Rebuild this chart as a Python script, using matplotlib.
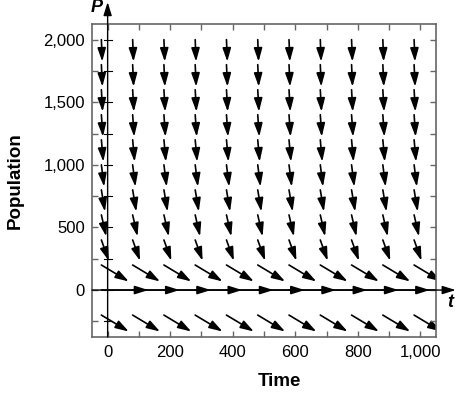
import matplotlib
matplotlib.use("Agg")
import matplotlib.pyplot as plt
import numpy as np
from matplotlib.patches import FancyArrowPatch
from matplotlib.ticker import FuncFormatter, MultipleLocator

plt.rcParams["font.family"] = ["Liberation Sans", "DejaVu Sans"]

# direction field sample points and the slope dP/dt read for each row
t_values = [-20, 80, 180, 280, 380, 480, 580, 680, 780, 880, 980]
p_values = [-200, 0, 200, 400, 600, 800, 1000, 1200, 1400, 1600, 1800, 2000]
row_slopes = [-1.5, 0.0, -1.5, -7, -11, -15, -20, -28, -36, -45, -55, -65]

x_ticks = [0, 200, 400, 600, 800, 1000]
y_ticks = [0, 500, 1000, 1500, 2000]

fig = plt.figure(figsize=(4.62, 3.94), dpi=100)
ax = fig.add_axes([92 / 462, 1 - 337 / 394, 344 / 462, 313 / 394])
ax.set_xlim(-50, 1050)
ax.set_ylim(-375, 2125)

frame_col = "#666666"
for sp in ax.spines.values():
    sp.set_color(frame_col)
    sp.set_linewidth(1.2)

ax.xaxis.set_major_locator(MultipleLocator(200))
ax.xaxis.set_minor_locator(MultipleLocator(100))
ax.yaxis.set_major_locator(MultipleLocator(500))
ax.yaxis.set_minor_locator(MultipleLocator(250))
ax.set_xticks(x_ticks)
ax.set_yticks(y_ticks)
fmt = FuncFormatter(lambda v, _: f"{v:,.0f}")
ax.xaxis.set_major_formatter(fmt)
ax.yaxis.set_major_formatter(fmt)
ax.tick_params(which="both", direction="in", length=4, width=1, color=frame_col,
               top=True, right=True, labelsize=12)
ax.tick_params(axis="x", pad=6)
ax.tick_params(axis="y", pad=5)

# coordinate axes through the origin
ax.annotate("", xy=(1113, 0), xytext=(-50, 0), xycoords="data",
            arrowprops=dict(arrowstyle="-|>,head_length=0.8,head_width=0.25",
                            color="black", lw=1.0, shrinkA=0, shrinkB=0),
            annotation_clip=False)
ax.annotate("", xy=(0, 2300), xytext=(0, -375), xycoords="data",
            arrowprops=dict(arrowstyle="-|>,head_length=0.8,head_width=0.25",
                            color="black", lw=1.0, shrinkA=0, shrinkB=0),
            annotation_clip=False)
for p in np.arange(-250, 2001, 250):
    ax.plot([-13, 13], [p, p], color="black", lw=0.8, clip_on=False)

ax.text(1095, -35, "t", fontsize=13, fontweight="bold", fontstyle="italic",
        ha="center", va="top", clip_on=False)
ax.text(-35, 2255, "P", fontsize=13, fontweight="bold", fontstyle="italic",
        ha="center", va="center", clip_on=False)

# direction field
to_disp = ax.transData
to_data = ax.transData.inverted()
for p, slope in zip(p_values, row_slopes):
    for t in t_values:
        x0, y0 = to_disp.transform((t, p))
        x1, y1 = to_disp.transform((t + 1, p + slope))
        dx, dy = x1 - x0, y1 - y0
        norm = np.hypot(dx, dy)
        ux, uy = dx / norm, dy / norm
        length = 22 + 25 * abs(ux) ** 6
        tip = to_data.transform((x0 + length * ux, y0 + length * uy))
        arr = FancyArrowPatch((t, p), tuple(tip),
                              arrowstyle="-|>,head_length=0.8,head_width=0.25",
                              mutation_scale=10, color="black", lw=1.2,
                              shrinkA=0, shrinkB=0)
        ax.add_patch(arr)

fig.text(15 / 462, 1 - 181 / 394, "Population", rotation=90, fontsize=13.5,
         fontweight="bold", ha="center", va="center")
fig.text(279 / 462, 1 - 381 / 394, "Time", fontsize=13.5, fontweight="bold",
         ha="center", va="center")

fig.savefig("out.png", dpi=100)
